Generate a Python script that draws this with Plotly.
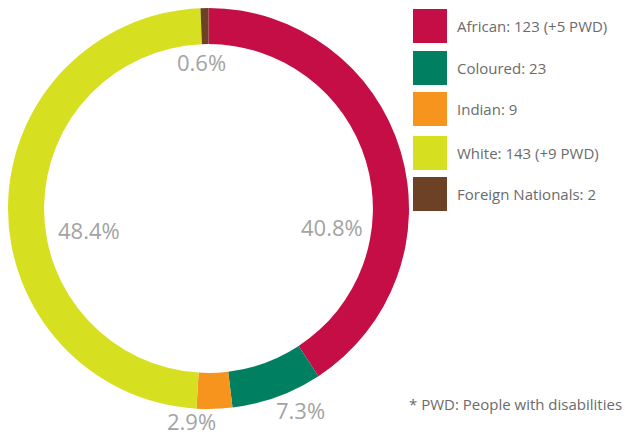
import plotly.graph_objects as go

W, H = 625, 436

categories = ["African", "Coloured", "Indian", "White", "Foreign Nationals"]
base_counts = [123, 23, 9, 143, 2]
pwd_counts = [5, 0, 0, 9, 0]
legend_labels = ["African: 123 (+5 PWD)", "Coloured: 23", "Indian: 9",
                 "White: 143 (+9 PWD)", "Foreign Nationals: 2"]
colors = ["#C40E45", "#008060", "#F7941D", "#D7DF21", "#6D4125"]

values = [b + p for b, p in zip(base_counts, pwd_counts)]
total = sum(values)
pct_text = [f"{v / total * 100:.1f}%" for v in values]

# label positions in window pixels (style)
label_px = [(332, 227), (300, 410), (192, 421), (89, 230), (201, 62)]


def px(x, y):
    return x / W, 1 - y / H


fig = go.Figure()
x0, y0 = px(8, 8)
x1, y1 = px(409, 409)
fig.add_trace(go.Pie(
    labels=categories, values=values, sort=False, direction="clockwise",
    rotation=0, hole=0.82, textinfo="none", hoverinfo="label+value+percent",
    marker=dict(colors=colors, line=dict(width=0)),
    domain=dict(x=[x0, x1], y=[y1, y0]), showlegend=False,
))

annotations = []
for t, (lx, ly) in zip(pct_text, label_px):
    ax, ay = px(lx, ly)
    annotations.append(dict(x=ax, y=ay, xref="paper", yref="paper", text=t,
                            showarrow=False, xanchor="center", yanchor="middle",
                            font=dict(family="Open Sans", size=22, color="#A3A3A3")))

shapes = []
sq_top = [9, 51, 92, 136, 177]
for i, (lab, c) in enumerate(zip(legend_labels, colors)):
    top = sq_top[i]
    ax0, ay0 = px(413, top)
    ax1, ay1 = px(447, top + 34)
    shapes.append(dict(type="rect", xref="paper", yref="paper", x0=ax0, x1=ax1,
                       y0=ay1, y1=ay0, fillcolor=c, line=dict(width=0)))
    tx, ty = px(455, top + 17)
    annotations.append(dict(x=tx, y=ty, xref="paper", yref="paper", text=lab,
                            showarrow=False, xanchor="left", yanchor="middle",
                            font=dict(family="Open Sans", size=15, color="#6B6B6B")))

fx, fy = px(624, 404)
annotations.append(dict(x=fx, y=fy, xref="paper", yref="paper",
                        text="* PWD: People with disabilities",
                        showarrow=False, xanchor="right", yanchor="middle",
                        font=dict(family="Open Sans", size=15, color="#6B6B6B")))

fig.update_layout(width=W, height=H, margin=dict(l=0, r=0, t=0, b=0),
                  paper_bgcolor="white", plot_bgcolor="white",
                  annotations=annotations, shapes=shapes)
fig.write_html(
    "out.html",
    config={"displayModeBar": False},
    post_script="document.body.style.margin='0';document.body.style.overflow='hidden';",
)
